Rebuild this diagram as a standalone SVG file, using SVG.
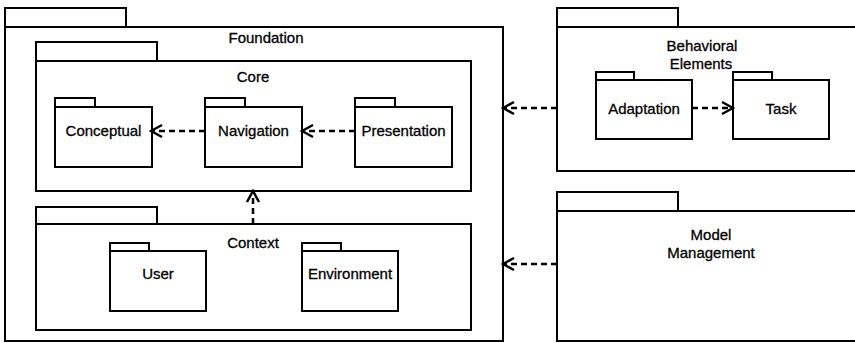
<svg xmlns="http://www.w3.org/2000/svg" width="855" height="343" viewBox="0 0 855 343">
  <style>
    .pkg { fill: #ffffff; stroke: #000000; stroke-width: 2; }
    .lbl { font-family: "Liberation Sans", Arial, Helvetica, sans-serif; font-size: 15px; fill: #000000; stroke: #000000; stroke-width: 0.3; text-anchor: middle; }
    .dep { fill: none; stroke: #000000; stroke-width: 2.5; stroke-dasharray: 6 4; }
  </style>
  <defs>
    <marker id="open" viewBox="-13 -8 15 16" refX="0" refY="0" markerWidth="15" markerHeight="16" markerUnits="userSpaceOnUse" orient="auto">
      <path d="M-11,-6 L0,0 L-11,6" fill="none" stroke="#000000" stroke-width="2.5" stroke-dasharray="none"/>
    </marker>
  </defs>
  <rect width="855" height="343" fill="#ffffff"/>

  <!-- Foundation package -->
  <g id="foundation">
    <rect class="pkg" x="5" y="8" width="121" height="19"/>
    <rect class="pkg" x="5" y="27" width="498" height="314"/>
    <text class="lbl" x="266" y="43">Foundation</text>
  </g>

  <!-- Core package -->
  <g id="core">
    <rect class="pkg" x="36" y="42" width="121" height="19"/>
    <rect class="pkg" x="36" y="61" width="435" height="130"/>
    <text class="lbl" x="253" y="82">Core</text>
  </g>

  <g id="conceptual">
    <rect class="pkg" x="55" y="98" width="40" height="9"/>
    <rect class="pkg" x="55" y="107" width="97" height="60"/>
    <text class="lbl" x="103.5" y="136">Conceptual</text>
  </g>

  <g id="navigation">
    <rect class="pkg" x="205" y="98" width="40" height="9"/>
    <rect class="pkg" x="205" y="107" width="97" height="60"/>
    <text class="lbl" x="253.5" y="136">Navigation</text>
  </g>

  <g id="presentation">
    <rect class="pkg" x="355" y="98" width="40" height="9"/>
    <rect class="pkg" x="355" y="107" width="97" height="60"/>
    <text class="lbl" x="403.5" y="136">Presentation</text>
  </g>

  <!-- Context package -->
  <g id="context">
    <rect class="pkg" x="36" y="207" width="121" height="17"/>
    <rect class="pkg" x="36" y="224" width="435" height="106"/>
    <text class="lbl" x="253" y="248">Context</text>
  </g>

  <g id="user">
    <rect class="pkg" x="110" y="243" width="39" height="8"/>
    <rect class="pkg" x="110" y="251" width="96" height="60"/>
    <text class="lbl" x="158" y="279">User</text>
  </g>

  <g id="environment">
    <rect class="pkg" x="302" y="243" width="39" height="8"/>
    <rect class="pkg" x="302" y="251" width="96" height="60"/>
    <text class="lbl" x="350" y="279">Environment</text>
  </g>

  <!-- Behavioral Elements package -->
  <g id="behavioral-elements">
    <rect class="pkg" x="557" y="8" width="121" height="19"/>
    <rect class="pkg" x="557" y="27" width="310" height="144"/>
    <text class="lbl" x="702" y="51">Behavioral</text>
    <text class="lbl" x="701" y="69">Elements</text>
  </g>

  <g id="adaptation">
    <rect class="pkg" x="596" y="72" width="38" height="8"/>
    <rect class="pkg" x="596" y="80" width="96" height="59"/>
    <text class="lbl" x="644" y="114">Adaptation</text>
  </g>

  <g id="task">
    <rect class="pkg" x="733" y="72" width="39" height="8"/>
    <rect class="pkg" x="733" y="80" width="96" height="59"/>
    <text class="lbl" x="781" y="114">Task</text>
  </g>

  <!-- Model Management package -->
  <g id="model-management">
    <rect class="pkg" x="557" y="192" width="121" height="19"/>
    <rect class="pkg" x="557" y="211" width="310" height="130"/>
    <text class="lbl" x="711" y="240">Model</text>
    <text class="lbl" x="711" y="258">Management</text>
  </g>

  <!-- Dependencies -->
  <g id="connectors">
    <path class="dep" d="M205,131 L151,131" marker-end="url(#open)"/>
    <path class="dep" d="M355,131 L302,131" marker-end="url(#open)"/>
    <path class="dep" d="M253,224 L253,191" marker-end="url(#open)"/>
    <path class="dep" d="M692,108 L733,108" marker-end="url(#open)"/>
    <path class="dep" d="M557,108 L503,108" marker-end="url(#open)"/>
    <path class="dep" d="M557,264 L503,264" marker-end="url(#open)"/>
  </g>
</svg>
